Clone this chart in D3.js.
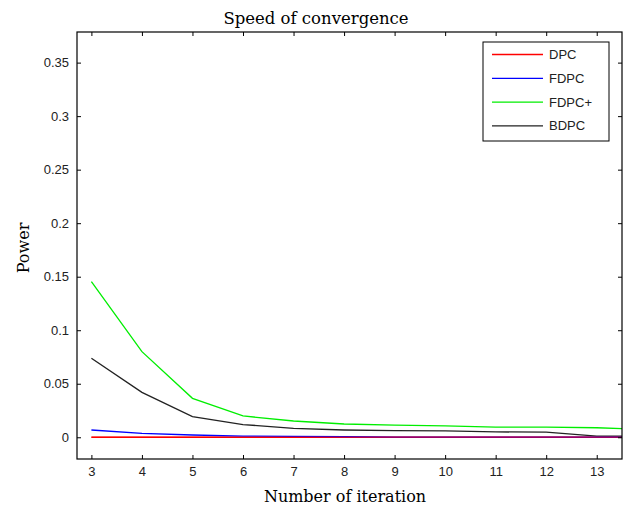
<!DOCTYPE html>
<html><head><meta charset="utf-8">
<script src="https://cdn.jsdelivr.net/npm/d3@7"></script>
<style>body{margin:0;background:#fff}svg{display:block}</style>
</head><body>
<script>
const iterations = [3,4,5,6,7,8,9,10,11,12,13,14];
const seriesNames = ["DPC","FDPC","FDPC+","BDPC"];
const seriesColors = ["#ff0000","#0000ff","#00ee00","#222222"];
const dpc   = [0,0,0,0,0,0,0,0,0,0,0,0];
const fdpc  = [0.0068,0.0037,0.0021,0.0011,0.0008,0.0005,0,0,0,0,0,0];
const fdpcP = [0.1454,0.080,0.0364,0.0199,0.0152,0.0124,0.0113,0.0107,0.0095,0.0095,0.0089,0.0071];
const bdpc  = [0.0738,0.042,0.0193,0.0119,0.0083,0.0068,0.0062,0.0060,0.0050,0.0048,0.0010,0.0010];
const xTicks = [3,4,5,6,7,8,9,10,11,12,13];
const yTicks = [0,0.05,0.1,0.15,0.2,0.25,0.3,0.35];

const W=625,H=506;
const m={l:77,r:3,t:32,b:47};
const svg=d3.select("body").append("svg").attr("width",W).attr("height",H);
const x=d3.scaleLinear().domain([2.715,13.5]).range([m.l,W-m.r]);
const y=d3.scaleLinear().domain([-0.0203,0.3786]).range([H-m.b,m.t]);
const pw=W-m.r-m.l, ph=H-m.b-m.t;

svg.append("clipPath").attr("id","clip").append("rect")
  .attr("x",m.l).attr("y",m.t).attr("width",pw).attr("height",ph);

const data=[dpc,fdpc,fdpcP,bdpc];
const line=d3.line().x((d,i)=>x(iterations[i])).y(d=>y(d));
const g=svg.append("g").attr("clip-path","url(#clip)");
[0,3,2,1].forEach(k=>{
  g.append("path").datum(data[k]).attr("d",line).attr("fill","none")
   .attr("stroke",seriesColors[k]).attr("stroke-width",1.3);
});
g.append("path").datum(dpc).attr("d",line).attr("fill","none").attr("stroke",seriesColors[0]).attr("stroke-width",1.3).attr("opacity",0.6);

const tickFont="Liberation Sans, Arial, sans-serif";
const ax=d3.axisBottom(x).tickValues(xTicks).tickSize(-4).tickPadding(8).tickFormat(d3.format("d"));
const gx=svg.append("g").attr("transform",`translate(0,${H-m.b})`).call(ax);
const axT=d3.axisTop(x).tickValues(xTicks).tickSize(-4).tickFormat("");
const gxt=svg.append("g").attr("transform",`translate(0,${m.t})`).call(axT);
const ay=d3.axisLeft(y).tickValues(yTicks).tickSize(-4).tickPadding(8).tickFormat(d=>d===0?"0":String(d));
const gy=svg.append("g").attr("transform",`translate(${m.l},0)`).call(ay);
const ayR=d3.axisRight(y).tickValues(yTicks).tickSize(-4).tickFormat("");
const gyr=svg.append("g").attr("transform",`translate(${W-m.r},0)`).call(ayR);
[gx,gxt,gy,gyr].forEach(a=>{
  a.select(".domain").remove();
  a.selectAll("line").attr("stroke","#000");
  a.selectAll("text").attr("fill","#222").style("font-family",tickFont).style("font-size","13px");
});
svg.append("rect").attr("x",m.l).attr("y",m.t).attr("width",pw).attr("height",ph)
  .attr("fill","none").attr("stroke","#000").attr("stroke-width",1.2);

const serif="DejaVu Serif, Liberation Serif, serif";
svg.append("text").attr("x",316).attr("y",24).attr("text-anchor","middle")
  .style("font-family",serif).style("font-size","16.5px").text("Speed of convergence");
svg.append("text").attr("x",345).attr("y",502).attr("text-anchor","middle")
  .style("font-family",serif).style("font-size","16px").text("Number of iteration");
svg.append("text").attr("transform","translate(29,248) rotate(-90)").attr("text-anchor","middle")
  .style("font-family",serif).style("font-size","16px").text("Power");

const lg=svg.append("g");
lg.append("rect").attr("x",483).attr("y",42).attr("width",126).attr("height",99)
  .attr("fill","#fff").attr("stroke","#000").attr("stroke-width",1);
seriesNames.forEach((n,i)=>{
  const yy=54.5+i*23.8;
  lg.append("line").attr("x1",492).attr("x2",543).attr("y1",yy).attr("y2",yy)
    .attr("stroke",seriesColors[i]).attr("stroke-width",1.3);
  lg.append("text").attr("x",549).attr("y",yy+4.5).style("font-family",tickFont)
    .style("font-size","13px").attr("fill","#222").text(n);
});
</script>
</body></html>
